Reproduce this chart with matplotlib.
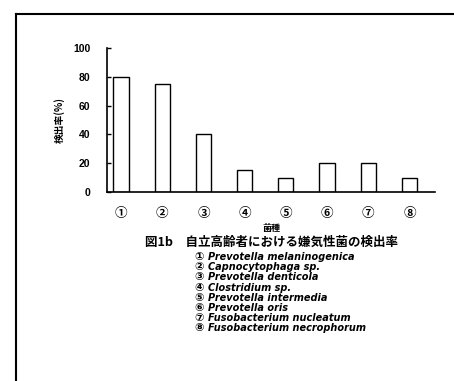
import matplotlib
matplotlib.use("Agg")
from matplotlib import pyplot as plt
from matplotlib.lines import Line2D

# data
categories = ["①", "②", "③", "④", "⑤", "⑥", "⑦", "⑧"]
detection_rate = [80, 75, 40, 15, 10, 20, 20, 10]
species = [
    "Prevotella melaninogenica",
    "Capnocytophaga sp.",
    "Prevotella denticola",
    "Clostridium sp.",
    "Prevotella intermedia",
    "Prevotella oris",
    "Fusobacterium nucleatum",
    "Fusobacterium necrophorum",
]
y_ticks = [0, 20, 40, 60, 80, 100]

JP = "Noto Sans CJK JP"

fig = plt.figure(figsize=(4.54, 3.81), dpi=100)
ax = fig.add_axes([0.2357, 0.496, 0.7225, 0.378])

x = list(range(len(categories)))
ax.bar(x, detection_rate, width=0.37, color="white", edgecolor="black", linewidth=1.0)

ax.set_xlim(-0.34, 7.62)
ax.set_ylim(0, 100)
ax.set_yticks(y_ticks)
ax.set_yticklabels([str(v) for v in y_ticks], fontsize=7.5, fontweight="bold",
                   family="Liberation Sans")
ax.set_xticks(x)
ax.set_xticklabels(categories, fontsize=9, family=JP, fontweight="bold")
ax.tick_params(axis="y", direction="in", length=3, width=1, pad=12)
ax.tick_params(axis="x", length=0, pad=11)
for side in ["top", "right"]:
    ax.spines[side].set_visible(False)
for side in ["left", "bottom"]:
    ax.spines[side].set_linewidth(1.2)

ax.set_ylabel("検出率(%)", family=JP, fontsize=7, fontweight="bold", labelpad=6)
ax.set_xlabel("菌種", family=JP, fontsize=6.5, fontweight="bold", labelpad=3)

fig.text(0.597, 1 - 242 / 381, "図1b　自立高齢者における嫌気性菌の検出率", family=JP,
         fontsize=9, fontweight="bold", ha="center", va="center")

# species key below the chart
for i, (num, name) in enumerate(zip(categories, species)):
    y = 1 - (257 + i * 10.2) / 381
    fig.text(0.428, y, num, family=["DejaVu Sans", JP], fontsize=8, fontweight="bold",
             ha="left", va="center")
    fig.text(0.458, y, name, family="DejaVu Sans", fontsize=7, fontweight="bold",
             style="italic", ha="left", va="center")

# frame lines around the figure (top and left only)
fig.add_artist(Line2D([0.035, 1.0], [0.963, 0.963], color="black", linewidth=1.5,
                      transform=fig.transFigure))
fig.add_artist(Line2D([0.035, 0.035], [0.963, 0.0], color="black", linewidth=1.5,
                      transform=fig.transFigure))

fig.savefig("out.png", dpi=100)
